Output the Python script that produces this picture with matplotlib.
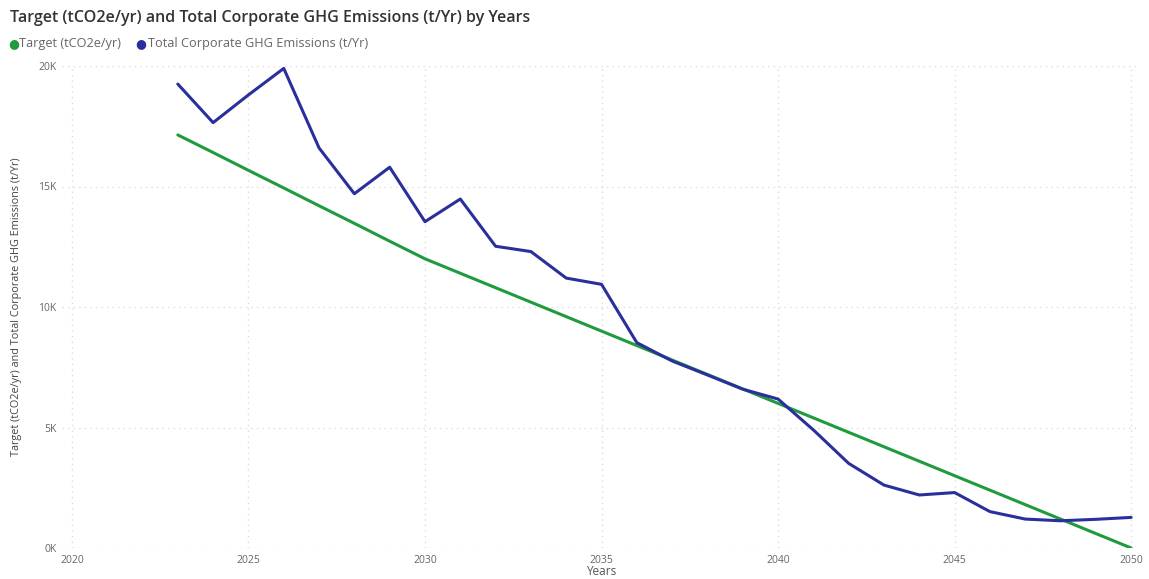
import matplotlib
matplotlib.use("Agg")
import matplotlib.pyplot as plt
from matplotlib.ticker import FuncFormatter

# data
years = list(range(2023, 2051))
target = [17140, 16410, 15670, 14940, 14200, 13470, 12730, 12000,
          11400, 10800, 10200, 9600, 9000, 8400, 7800, 7200, 6600, 6000,
          5400, 4800, 4200, 3600, 3000, 2400, 1800, 1200, 600, 0]
emissions = [19250, 17650, 18800, 19900, 16600, 14700, 15800, 13540,
             14480, 12520, 12300, 11200, 10940, 8520, 7760, 7180, 6590, 6180,
             4900, 3510, 2610, 2200, 2300, 1510, 1200, 1130, 1190, 1270]
xticks = [2020, 2025, 2030, 2035, 2040, 2045, 2050]
yticks = [0, 5000, 10000, 15000, 20000]

green = "#1f9a3e"
blue = "#2a2f9c"
grey_txt = "#666666"

plt.rcParams['font.family'] = ['Open Sans', 'DejaVu Sans']

fig = plt.figure(figsize=(11.49, 5.79), dpi=100)
ax = fig.add_axes([62/1149, 1-548/579, (1140-62)/1149, (548-66)/579])

ax.plot(years, target, color=green, lw=2.2, solid_capstyle='round')
ax.plot(years, emissions, color=blue, lw=2.2, solid_capstyle='round')

ax.set_xlim(2019.72, 2050.25)
ax.set_ylim(0, 20000)
ax.set_xticks(xticks)
ax.set_yticks(yticks)
ax.yaxis.set_major_formatter(FuncFormatter(lambda v, p: f"{int(v/1000)}K"))
ax.grid(True, color="#dcdcdc", linestyle=(0, (1, 3)), lw=1)
for s in ax.spines.values():
    s.set_visible(False)
ax.tick_params(length=0, labelsize=7.5, colors=grey_txt, pad=4)
ax.tick_params(axis='x', pad=5)
ax.set_xlabel("Years", fontsize=8.5, color="#555555", labelpad=-1)
ax.set_ylabel("Target (tCO2e/yr) and Total Corporate GHG Emissions (t/Yr)",
              fontsize=7.8, color="#444444")
ax.yaxis.set_label_coords(-40/1078, 0.5)

fig.text(10/1149, 1-18/579, "Target (tCO2e/yr) and Total Corporate GHG Emissions (t/Yr) by Years",
         fontsize=11.5, weight='semibold', color="#333333", va='center', ha='left')

# legend row
fig.text(8/1149, 1-44/579, "\u25cf", color=green, fontsize=9, va='center')
fig.text(19/1149, 1-44/579, "Target (tCO2e/yr)", color=grey_txt, fontsize=9.2, va='center')
fig.text(135/1149, 1-44/579, "\u25cf", color=blue, fontsize=9, va='center')
fig.text(148/1149, 1-44/579, "Total Corporate GHG Emissions (t/Yr)", color=grey_txt,
         fontsize=9.2, va='center')

fig.savefig("out.png", dpi=100)
